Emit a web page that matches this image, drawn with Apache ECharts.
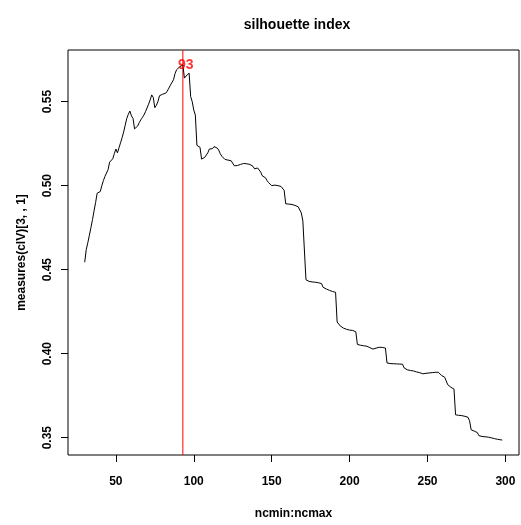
<!DOCTYPE html>
<html>
<head>
<meta charset="utf-8">
<script src="https://cdn.jsdelivr.net/npm/echarts@6/dist/echarts.min.js"></script>
<style>
html,body{margin:0;padding:0;background:#fff;}
#chart{width:521px;height:525px;}
</style>
</head>
<body>
<div id="chart"></div>
<script>
var titleText = "silhouette index";
var xAxisTitle = "ncmin:ncmax";
var yAxisTitle = "measures(clV)[3, , 1]";
var ncmin = 30;
var ncmax = 298;
var bestNc = 93;
var xTickValues = [50, 100, 150, 200, 250, 300];
var yTickValues = [0.35, 0.40, 0.45, 0.50, 0.55];
var silhouette = [
  0.4544, 0.4620, 0.4660, 0.4705, 0.4750, 0.4798, 0.4850, 0.4900, 0.4955, 0.4963,
  0.4965, 0.5000, 0.5030, 0.5055, 0.5075, 0.5095, 0.5140, 0.5138, 0.5160, 0.5190,
  0.5218, 0.5195, 0.5225, 0.5255, 0.5285, 0.5320, 0.5360, 0.5400, 0.5425, 0.5444,
  0.5415, 0.5400, 0.5338, 0.5345, 0.5355, 0.5375, 0.5392, 0.5405, 0.5420, 0.5440,
  0.5462, 0.5485, 0.5510, 0.5540, 0.5525, 0.5464, 0.5478, 0.5500, 0.5535, 0.5540,
  0.5544, 0.5535, 0.5550, 0.5563, 0.5580, 0.5598, 0.5608, 0.5630, 0.5668, 0.5690,
  0.5700, 0.5708, 0.5712, 0.5718, 0.5640, 0.5652, 0.5662, 0.5670, 0.5530, 0.5500,
  0.5450, 0.5420, 0.5240, 0.5235, 0.5228, 0.5158, 0.5162, 0.5168, 0.5174, 0.5195,
  0.5218, 0.5226, 0.5220, 0.5232, 0.5222, 0.5224, 0.5212, 0.5190, 0.5175, 0.5165,
  0.5156, 0.5154, 0.5152, 0.5150, 0.5148, 0.5140, 0.5118, 0.5116, 0.5120, 0.5122,
  0.5126, 0.5130, 0.5132, 0.5133, 0.5130, 0.5128, 0.5126, 0.5124, 0.5115, 0.5100,
  0.5095, 0.5105, 0.5108, 0.5080, 0.5058, 0.5052, 0.5047, 0.5030, 0.5018, 0.5015,
  0.5000, 0.4997, 0.5003, 0.5005, 0.5000, 0.4997, 0.4995, 0.4988, 0.4972, 0.4892,
  0.4892, 0.4890, 0.4889, 0.4888, 0.4885, 0.4882, 0.4880, 0.4874, 0.4866, 0.4838,
  0.4790, 0.4784, 0.4440, 0.4432, 0.4430, 0.4428, 0.4427, 0.4426, 0.4425, 0.4424,
  0.4422, 0.4420, 0.4417, 0.4395, 0.4390, 0.4385, 0.4380, 0.4377, 0.4373, 0.4370,
  0.4367, 0.4365, 0.4188, 0.4180, 0.4165, 0.4158, 0.4152, 0.4147, 0.4145, 0.4142,
  0.4140, 0.4139, 0.4138, 0.4134, 0.4130, 0.4055, 0.4052, 0.4050, 0.4049, 0.4047,
  0.4045, 0.4044, 0.4042, 0.4036, 0.4030, 0.4027, 0.4030, 0.4033, 0.4036, 0.4038,
  0.4039, 0.4037, 0.4035, 0.4033, 0.3945, 0.3942, 0.3941, 0.3940, 0.3940, 0.3940,
  0.3939, 0.3939, 0.3938, 0.3938, 0.3937, 0.3915, 0.3906, 0.3904, 0.3902, 0.3900,
  0.3899, 0.3897, 0.3893, 0.3891, 0.3889, 0.3887, 0.3885, 0.3880, 0.3880, 0.3883,
  0.3885, 0.3885, 0.3886, 0.3887, 0.3888, 0.3889, 0.3889, 0.3889, 0.3886, 0.3870,
  0.3862, 0.3860, 0.3856, 0.3815, 0.3806, 0.3800, 0.3795, 0.3789, 0.3636, 0.3634,
  0.3633, 0.3632, 0.3631, 0.3629, 0.3627, 0.3624, 0.3621, 0.3600, 0.3547, 0.3542,
  0.3539, 0.3536, 0.3530, 0.3512, 0.3509, 0.3507, 0.3506, 0.3505, 0.3504, 0.3503,
  0.3502, 0.3499, 0.3496, 0.3494, 0.3492, 0.3490, 0.3488, 0.3487, 0.3486
];

var ncValues = [];
for (var n = ncmin; n <= ncmax; n++) ncValues.push(n);
var lineData = ncValues.map(function (x, i) { return [x, silhouette[i]]; });
var bestValue = silhouette[ncValues.indexOf(bestNc)];

// R-style 4% axis extension
var xSpan = ncmax - ncmin;
var xMin = ncmin - 0.04 * xSpan, xMax = ncmax + 0.04 * xSpan;
var yLo = Math.min.apply(null, silhouette), yHi = Math.max.apply(null, silhouette);
var ySpan = yHi - yLo;
var yMin = yLo - 0.04 * ySpan, yMax = yHi + 0.04 * ySpan;

var FONT = "Liberation Sans, Arial, sans-serif";
var chart = echarts.init(document.getElementById('chart'), null, {renderer: 'canvas'});
chart.setOption({
  animation: false,
  backgroundColor: '#ffffff',
  title: {
    text: titleText, left: 292, top: 13, textAlign: 'center',
    textStyle: {fontFamily: FONT, fontWeight: 'bold', fontSize: 14, color: '#000'}
  },
  grid: {left: 68, right: 2, top: 50, bottom: 70, show: true, borderColor: '#000', borderWidth: 1, backgroundColor: 'transparent'},
  xAxis: {
    type: 'value', min: xMin, max: xMax,
    name: xAxisTitle, nameLocation: 'middle', nameGap: 53,
    nameTextStyle: {fontFamily: FONT, fontWeight: 'bold', fontSize: 12, color: '#000'},
    axisLine: {show: false},
    axisTick: {show: true, inside: false, length: 7, lineStyle: {color: '#000'}, customValues: xTickValues},
    axisLabel: {show: true, margin: 21, customValues: xTickValues, fontFamily: FONT, fontWeight: 'bold', fontSize: 12, color: '#000'},
    splitLine: {show: false}
  },
  yAxis: {
    type: 'value', min: yMin, max: yMax,
    name: yAxisTitle, nameLocation: 'middle', nameGap: 40, nameRotate: 90,
    nameTextStyle: {fontFamily: FONT, fontWeight: 'bold', fontSize: 12, color: '#000'},
    axisLine: {show: false},
    axisTick: {show: true, inside: false, length: 7, lineStyle: {color: '#000'}, customValues: yTickValues},
    axisLabel: {show: true, margin: 14, rotate: 90, customValues: yTickValues,
      formatter: function (v) { return v.toFixed(2); },
      fontFamily: FONT, fontWeight: 'bold', fontSize: 12, color: '#000'},
    splitLine: {show: false}
  },
  series: [
    {
      type: 'line', data: [[bestNc, yMin], [bestNc, yMax]], showSymbol: false, symbol: 'none',
      lineStyle: {color: '#ff0000', width: 1}, z: 2, silent: true
    },
    {
      type: 'line', data: lineData, showSymbol: false, symbol: 'none',
      lineStyle: {color: '#000', width: 1}, z: 3
    },
    {
      type: 'scatter', data: [[bestNc, bestValue]], symbolSize: 1,
      itemStyle: {color: 'rgba(0,0,0,0)'}, z: 5,
      label: {show: true, position: 'inside', offset: [3, 0], formatter: String(bestNc),
        fontFamily: FONT, fontWeight: 'bold', fontSize: 14, color: '#ff0000'}
    }
  ]
});
</script>
</body>
</html>
